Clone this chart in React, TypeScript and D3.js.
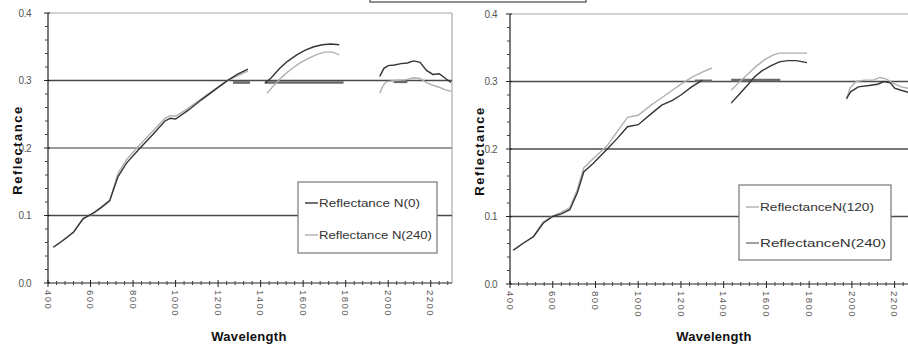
import React from 'react';
import * as d3 from 'd3';

// ---------- shared axis data ----------
const xTickValues = [400, 600, 800, 1000, 1200, 1400, 1600, 1800, 2000, 2200];
const yTickValues = [0, 0.1, 0.2, 0.3, 0.4];
const yTickLabels = ['0.0', '0.1', '0.2', '0.3', '0.4'];
const xDomain = [400, 2300];
const yDomain = [0, 0.4];

// ---------- left panel: N(0) (dark) and N(240) (light) ----------
const leftSeg1Wl = [425, 470, 520, 565, 610, 650, 690, 710, 730, 770, 830, 890, 950, 975, 1000, 1060, 1120, 1180, 1240, 1290, 1340];
const leftN0Seg1 = [0.053, 0.063, 0.075, 0.095, 0.103, 0.112, 0.122, 0.14, 0.158, 0.178, 0.199, 0.219, 0.24, 0.244, 0.243, 0.256, 0.271, 0.285, 0.299, 0.309, 0.317];
const leftN240Seg1 = [0.053, 0.063, 0.076, 0.096, 0.102, 0.111, 0.121, 0.143, 0.163, 0.183, 0.204, 0.224, 0.244, 0.248, 0.247, 0.259, 0.273, 0.286, 0.299, 0.307, 0.314];
const leftN0Seg2Wl = [1420, 1450, 1490, 1525, 1570, 1610, 1650, 1690, 1730, 1770];
const leftN0Seg2 = [0.296, 0.304, 0.318, 0.328, 0.338, 0.345, 0.35, 0.353, 0.354, 0.353];
const leftN240Seg2Wl = [1430, 1460, 1500, 1540, 1580, 1620, 1660, 1700, 1740, 1770];
const leftN240Seg2 = [0.281, 0.292, 0.305, 0.316, 0.325, 0.332, 0.338, 0.342, 0.342, 0.338];
const leftN0Seg3Wl = [1960, 1980, 2000, 2030, 2060, 2090, 2120, 2150, 2180, 2210, 2240, 2270, 2295];
const leftN0Seg3 = [0.306, 0.318, 0.322, 0.323, 0.325, 0.326, 0.329, 0.327, 0.315, 0.309, 0.31, 0.303, 0.297];
const leftN240Seg3Wl = [1960, 1975, 1990, 2030, 2080, 2120, 2150, 2180, 2210, 2240, 2270, 2295];
const leftN240Seg3 = [0.281, 0.292, 0.298, 0.3, 0.301, 0.304, 0.303, 0.297, 0.293, 0.29, 0.286, 0.284];
const leftFlatStart = [1270, 1420, 2025];
const leftFlatEnd = [1350, 1790, 2090];
const leftFlatValue = [0.297, 0.297, 0.298];

// ---------- right panel: N(120) (light) and N(240) (dark) ----------
const rightSeg1Wl = [415, 460, 510, 555, 600, 640, 680, 715, 745, 790, 855, 900, 950, 1000, 1060, 1110, 1160, 1200, 1250, 1300, 1345];
const rightN120Seg1 = [0.05, 0.06, 0.071, 0.092, 0.101, 0.106, 0.113, 0.14, 0.172, 0.186, 0.205, 0.225, 0.247, 0.25, 0.265, 0.276, 0.287, 0.296, 0.306, 0.314, 0.32];
const rightN240Seg1Wl = [415, 460, 510, 555, 600, 640, 680, 715, 745, 790, 855, 900, 950, 1000, 1060, 1110, 1160, 1200, 1250, 1300];
const rightN240Seg1 = [0.05, 0.06, 0.07, 0.09, 0.1, 0.104, 0.11, 0.135, 0.166, 0.179, 0.2, 0.215, 0.233, 0.236, 0.252, 0.265, 0.272, 0.28, 0.292, 0.302];
const rightN120Seg2Wl = [1435, 1470, 1510, 1550, 1590, 1630, 1660, 1700, 1740, 1790];
const rightN120Seg2 = [0.287, 0.298, 0.31, 0.322, 0.332, 0.339, 0.342, 0.342, 0.342, 0.342];
const rightN240Seg2Wl = [1435, 1470, 1510, 1545, 1580, 1620, 1660, 1700, 1740, 1790];
const rightN240Seg2 = [0.268, 0.28, 0.294, 0.307, 0.316, 0.323, 0.329, 0.331, 0.331, 0.328];
const rightN120Seg3Wl = [1975, 1990, 2020, 2060, 2100, 2130, 2160, 2190, 2230, 2264];
const rightN120Seg3 = [0.273, 0.29, 0.3, 0.302, 0.302, 0.306, 0.304, 0.298, 0.292, 0.29];
const rightN240Seg3Wl = [1975, 1995, 2030, 2080, 2120, 2150, 2180, 2200, 2230, 2264];
const rightN240Seg3 = [0.275, 0.285, 0.292, 0.294, 0.296, 0.3, 0.298, 0.29, 0.287, 0.284];
const rightFlatStart = [1265, 1435];
const rightFlatEnd = [1345, 1665];
const rightFlatValue = [0.301, 0.302];

const leftLegend = ['Reflectance N(0)', 'Reflectance N(240)'];
const rightLegend = ['ReflectanceN(120)', 'ReflectanceN(240)'];

const DARK = '#353535';
const LIGHT = '#b0b0b0';
const FONT = 'Liberation Sans, Arial, sans-serif';

type Seg = { wl: number[]; v: number[]; color: string };

function Panel(props: {
  px0: number; px1: number; pyTop: number; pyBottom: number; clipRight: number;
  segs: Seg[]; flatS: number[]; flatE: number[]; flatV: number[];
  gridColors: string[]; gridWidths: number[];
  legend: string[]; legendColors: string[];
  lg: { x: number; y: number; w: number; h: number; y1: number; y2: number };
  yTitleX: number; xTitleX: number; id: string; yLabelGap: number;
}) {
  const x = d3.scaleLinear().domain(xDomain).range([props.px0, props.px1]);
  const y = d3.scaleLinear().domain(yDomain).range([props.pyBottom, props.pyTop]);
  const line = d3.line<[number, number]>().x(d => x(d[0])).y(d => y(d[1]));
  const minorX = d3.range(400, 2301, 40).filter(v => (v - 400) % 200 !== 0);
  const minorY = d3.range(0, 0.401, 0.02).filter((v, i) => i % 5 !== 0);
  const right = Math.min(props.px1, props.clipRight);
  return (
    <g>
      <defs>
        <clipPath id={props.id}>
          <rect x={props.px0} y={props.pyTop - 2} width={right - props.px0} height={props.pyBottom - props.pyTop + 4} />
        </clipPath>
      </defs>
      <line x1={props.px0} x2={right} y1={y(0.4)} y2={y(0.4)} stroke="#a8a8a8" strokeWidth={1.2} />
      {props.px1 <= props.clipRight && (
        <line x1={x(2300)} x2={x(2300)} y1={y(0.4)} y2={y(0)} stroke="#a8a8a8" strokeWidth={1.2} />
      )}
      {[0.1, 0.2, 0.3].map((t, i) => (
        <line key={t} x1={props.px0} x2={right} y1={y(t)} y2={y(t)} stroke={props.gridColors[i]} strokeWidth={props.gridWidths[i]} />
      ))}
      <g clipPath={`url(#${props.id})`}>
        {props.flatS.map((s, i) => (
          <line key={i} x1={x(s)} x2={x(props.flatE[i])} y1={y(props.flatV[i])} y2={y(props.flatV[i])} stroke="#6a6a6a" strokeWidth={2.6} />
        ))}
        {props.segs.map((s, i) => (
          <path key={i} d={line(s.wl.map((w, j) => [w, s.v[j]] as [number, number])) || ''} fill="none" stroke={s.color} strokeWidth={1.4} />
        ))}
      </g>
      <line x1={props.px0} x2={props.px0} y1={y(0.4)} y2={y(0)} stroke="#222" strokeWidth={1.2} />
      <line x1={props.px0} x2={right} y1={y(0)} y2={y(0)} stroke="#222" strokeWidth={1.2} />
      {yTickValues.map((t, i) => (
        <g key={t}>
          <line x1={props.px0 - 4} x2={props.px0 + 2} y1={y(t)} y2={y(t)} stroke="#222" />
          <text x={props.px0 - props.yLabelGap} y={y(t)} dy="0.35em" textAnchor="end" fontSize={10} fill="#555" fontFamily={FONT} letterSpacing={-0.5}>{yTickLabels[i]}</text>
        </g>
      ))}
      {minorY.map(t => (
        <line key={t} x1={props.px0 - 3} x2={props.px0} y1={y(t)} y2={y(t)} stroke="#444" />
      ))}
      {xTickValues.map(t => (
        <g key={t}>
          <line x1={x(t)} x2={x(t)} y1={y(0) - 3} y2={y(0) + 4} stroke="#222" />
          <text transform={`translate(${x(t)},${y(0) + 7}) rotate(90)`} dy="0.35em" fontSize={9.5} fill="#555" fontFamily={FONT} letterSpacing={1.5}>{t}</text>
        </g>
      ))}
      {minorX.filter(v => x(v) <= right).map(t => (
        <line key={t} x1={x(t)} x2={x(t)} y1={y(0) - 2} y2={y(0) + 2} stroke="#444" />
      ))}
      <text transform={`translate(${props.yTitleX},${(y(0.4) + y(0)) / 2 + 2}) rotate(-90)`} textAnchor="middle" fontSize={13} fontWeight="bold" fontFamily={FONT} fill="#111" letterSpacing={1.5}>Reflectance</text>
      <text x={props.xTitleX} y={341} textAnchor="middle" fontSize={13} fontWeight="bold" fontFamily={FONT} fill="#111" letterSpacing={0.3}>Wavelength</text>
      <rect x={props.lg.x} y={props.lg.y} width={props.lg.w} height={props.lg.h} fill="#fff" stroke="#777" strokeWidth={1.2} />
      {props.legend.map((lab, i) => {
        const ly = i === 0 ? props.lg.y1 : props.lg.y2;
        return (
          <g key={lab}>
            <line x1={props.lg.x + 7} x2={props.lg.x + 20} y1={ly} y2={ly} stroke={props.legendColors[i]} strokeWidth={1.4} />
            <text x={props.lg.x + 21} y={ly} dy="0.35em" fontSize={11} fontFamily={FONT} fill="#333" textLength={i === 0 ? props.lg.w - 38 : props.lg.w - 26} lengthAdjust="spacingAndGlyphs">{lab}</text>
          </g>
        );
      })}
    </g>
  );
}

export default function App() {
  const leftSegs: Seg[] = [
    { wl: leftSeg1Wl, v: leftN240Seg1, color: LIGHT },
    { wl: leftSeg1Wl, v: leftN0Seg1, color: DARK },
    { wl: leftN240Seg2Wl, v: leftN240Seg2, color: LIGHT },
    { wl: leftN0Seg2Wl, v: leftN0Seg2, color: DARK },
    { wl: leftN240Seg3Wl, v: leftN240Seg3, color: LIGHT },
    { wl: leftN0Seg3Wl, v: leftN0Seg3, color: DARK },
  ];
  const rightSegs: Seg[] = [
    { wl: rightSeg1Wl, v: rightN120Seg1, color: LIGHT },
    { wl: rightN240Seg1Wl, v: rightN240Seg1, color: DARK },
    { wl: rightN120Seg2Wl, v: rightN120Seg2, color: LIGHT },
    { wl: rightN240Seg2Wl, v: rightN240Seg2, color: DARK },
    { wl: rightN120Seg3Wl, v: rightN120Seg3, color: LIGHT },
    { wl: rightN240Seg3Wl, v: rightN240Seg3, color: DARK },
  ];
  return (
    <svg width={908} height={350} style={{ position: 'absolute', left: 0, top: 0, background: '#fff' }}>
      <rect x={0} y={0} width={908} height={350} fill="#fff" />
      <rect x={370} y={-10} width={216} height={12} fill="none" stroke="#444" strokeWidth={1.2} />
      <Panel
        id="clipL" px0={48} px1={452} pyTop={13} pyBottom={283} clipRight={908}
        segs={leftSegs} flatS={leftFlatStart} flatE={leftFlatEnd} flatV={leftFlatValue}
        gridColors={['#4a4a4a', '#9a9a9a', '#4a4a4a']} gridWidths={[1.3, 2, 1.3]}
        legend={leftLegend} legendColors={[DARK, LIGHT]}
        lg={{ x: 298, y: 182, w: 139, h: 71, y1: 203, y2: 235 }}
        yTitleX={22} xTitleX={249} yLabelGap={17}
      />
      <Panel
        id="clipR" px0={510} px1={916} pyTop={14} pyBottom={284} clipRight={908}
        segs={rightSegs} flatS={rightFlatStart} flatE={rightFlatEnd} flatV={rightFlatValue}
        gridColors={['#4a4a4a', '#4a4a4a', '#4a4a4a']} gridWidths={[1.3, 1.3, 1.3]}
        legend={rightLegend} legendColors={[LIGHT, '#777']}
        lg={{ x: 739, y: 185, w: 152, h: 75, y1: 207, y2: 243 }}
        yTitleX={484} xTitleX={714} yLabelGap={13}
      />
    </svg>
  );
}
